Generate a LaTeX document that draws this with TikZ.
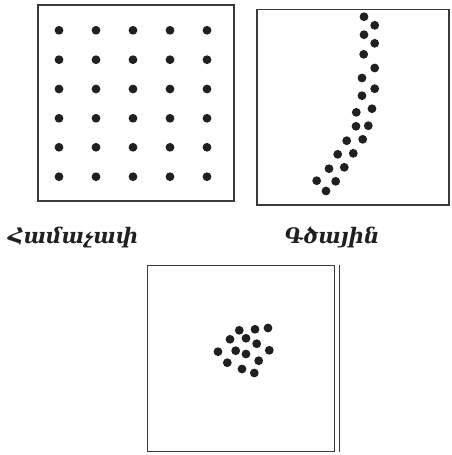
\documentclass[tikz,border=0pt]{standalone}
\usepackage{fontspec}
\newfontfamily\armfont{DejaVu Serif}
\definecolor{ink}{HTML}{231F20}
\definecolor{frame}{HTML}{3A3A3A}
\tikzset{
  dot/.style={fill=ink, draw=none},
  panel/.style={draw=frame, line width=1.1pt},
  lbl/.style={font=\armfont\bfseries\itshape\fontsize{16}{19}\selectfont, text=ink, inner sep=0pt}
}
\begin{document}
\begin{tikzpicture}[x=0.75pt,y=-0.75pt]
\useasboundingbox (0,0) rectangle (452,455);
% panel 1: uniform
\draw[panel] (38,5) rectangle (234,201);
\foreach \x in {59,96,133,170,207}
  \foreach \y in {30.3,59.7,89,118.3,147.3,176.7}
    \fill[dot] (\x,\y) circle (4.4);
% panel 2: linear
\draw[panel] (257,9.5) rectangle (449,205);
\foreach \p in {(364,16.7),(374.7,25.3),(364,34.7),(374.7,43.3),(363.7,54.3),(374.7,68),(362,78),(374.7,88.7),(362,95.7),(372,108.7),(356.3,112.3),(368.3,125.7),(356,126.3),(362.7,139.3),(346.7,140.7),(353.3,153.3),(337.7,154.3),(344.3,167.3),(329,168.7),(335.7,181.3),(316.7,180.7),(326,191)}
  \fill[dot] \p circle (4.4);
% labels
\node[lbl] (l1) at (73,237) {Համաչափ};
\node[lbl] (l2) at (332,237) {Գծային};
% panel 3: clustered
\draw[panel] (147.3,265.3) rectangle (334.7,451.7);
\draw[panel] (339.3,265.3) -- (339.3,451.7);
\foreach \p in {(239.3,330.3),(255,329.3),(268,328),(230,339.3),(246,338.3),(256.7,343.7),(218,351.7),(235.7,350.7),(246,354),(269.3,350.3),(227.3,362.7),(258.7,360.7),(242,369),(254.3,373)}
  \fill[dot] \p circle (4.4);
\end{tikzpicture}
\end{document}
